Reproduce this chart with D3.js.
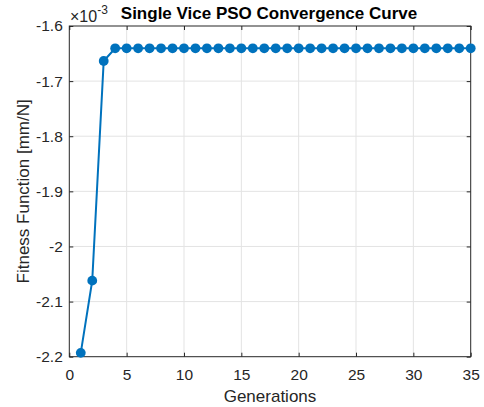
<!DOCTYPE html>
<html>
<head>
<meta charset="utf-8">
<script src="https://cdn.jsdelivr.net/npm/d3@7/dist/d3.min.js"></script>
<style>
  html, body { margin: 0; padding: 0; background: #fff; }
  svg { display: block; font-family: "Liberation Sans", Arial, Helvetica, sans-serif; }
</style>
</head>
<body>
<svg id="chart" width="484" height="407"></svg>
<script>
// PSO convergence history (fitness in units of 1e-3 mm/N)
const generations = [1, 2, 3, 4, 5, 6, 7, 8, 9, 10, 11, 12, 13, 14, 15, 16, 17, 18,
  19, 20, 21, 22, 23, 24, 25, 26, 27, 28, 29, 30, 31, 32, 33, 34, 35];
const fitness = [-2.193, -2.062, -1.6635,
  -1.6405, -1.6405, -1.6405, -1.6405, -1.6405, -1.6405, -1.6405, -1.6405,
  -1.6405, -1.6405, -1.6405, -1.6405, -1.6405, -1.6405, -1.6405, -1.6405,
  -1.6405, -1.6405, -1.6405, -1.6405, -1.6405, -1.6405, -1.6405, -1.6405,
  -1.6405, -1.6405, -1.6405, -1.6405, -1.6405, -1.6405, -1.6405, -1.6405];
const xTicks = [0, 5, 10, 15, 20, 25, 30, 35];
const yTicks = [-2.2, -2.1, -2.0, -1.9, -1.8, -1.7, -1.6];
const yTickLabels = ["-2.2", "-2.1", "-2", "-1.9", "-1.8", "-1.7", "-1.6"];

const svg = d3.select("#chart");
const pL = 69.3, pR = 470.7, pT = 26, pB = 356.7;

const x = d3.scaleLinear().domain([0, 35]).range([pL, pR]);
const y = d3.scaleLinear().domain([-2.2, -1.6]).range([pB, pT]);

const axisColor = "#262626";
const gridColor = "#e3e3e3";

// grid
const grid = svg.append("g");
grid.selectAll("line.gx").data(xTicks.slice(1, -1)).join("line")
  .attr("x1", d => x(d)).attr("x2", d => x(d))
  .attr("y1", pT).attr("y2", pB)
  .attr("stroke", gridColor).attr("stroke-width", 1);
grid.selectAll("line.gy").data(yTicks.slice(1, -1)).join("line")
  .attr("y1", d => y(d)).attr("y2", d => y(d))
  .attr("x1", pL).attr("x2", pR)
  .attr("stroke", gridColor).attr("stroke-width", 1);

// axes with inward ticks
const xAxis = d3.axisBottom(x).tickValues(xTicks).tickSizeInner(-4).tickSizeOuter(0).tickPadding(12.5);
const yAxis = d3.axisLeft(y).tickValues(yTicks).tickSizeInner(-4).tickSizeOuter(0).tickPadding(6.5)
  .tickFormat((d, i) => yTickLabels[i]);

const gx = svg.append("g").attr("transform", `translate(0,${pB})`).call(xAxis);
const gy = svg.append("g").attr("transform", `translate(${pL},0)`).call(yAxis);
// mirrored ticks on top and right
const gxt = svg.append("g").attr("transform", `translate(0,${pT})`)
  .call(d3.axisTop(x).tickValues(xTicks).tickSizeInner(-4).tickSizeOuter(0).tickFormat(""));
const gyr = svg.append("g").attr("transform", `translate(${pR},0)`)
  .call(d3.axisRight(y).tickValues(yTicks).tickSizeInner(-4).tickSizeOuter(0).tickFormat(""));

[gx, gy, gxt, gyr].forEach(g => {
  g.select(".domain").remove();
  g.selectAll(".tick line").attr("stroke", axisColor).attr("stroke-width", 1);
  g.selectAll(".tick text").attr("fill", axisColor).style("font-size", "15.5px");
});

// box
svg.append("rect")
  .attr("x", pL).attr("y", pT)
  .attr("width", pR - pL).attr("height", pB - pT)
  .attr("fill", "none").attr("stroke", axisColor).attr("stroke-width", 1);

// series
const pts = generations.map((g, i) => [g, fitness[i]]);
const line = d3.line().x(d => x(d[0])).y(d => y(d[1]));
svg.append("path").datum(pts)
  .attr("d", line).attr("fill", "none")
  .attr("stroke", "#0072BD").attr("stroke-width", 2);
svg.selectAll("circle.pt").data(pts).join("circle")
  .attr("cx", d => x(d[0])).attr("cy", d => y(d[1]))
  .attr("r", 4.9).attr("fill", "#0072BD");

// exponent marker
const ex = svg.append("text").attr("x", 70).attr("y", 22)
  .attr("fill", axisColor).style("font-size", "16px");
ex.append("tspan").text("×10");
ex.append("tspan").attr("dy", -8).style("font-size", "12px").text("-3");

// title
svg.append("text").attr("x", 269).attr("y", 18.5)
  .attr("text-anchor", "middle").attr("fill", "#000")
  .style("font-size", "17px").style("font-weight", "bold")
  .text("Single Vice PSO Convergence Curve");

// axis labels
svg.append("text").attr("x", (pL + pR) / 2).attr("y", 402)
  .attr("text-anchor", "middle").attr("fill", axisColor)
  .style("font-size", "17px").text("Generations");
svg.append("text")
  .attr("transform", `translate(28.5,${(pT + pB) / 2}) rotate(-90)`)
  .attr("text-anchor", "middle").attr("fill", axisColor)
  .style("font-size", "17px").text("Fitness Function [mm/N]");
</script>
</body>
</html>
